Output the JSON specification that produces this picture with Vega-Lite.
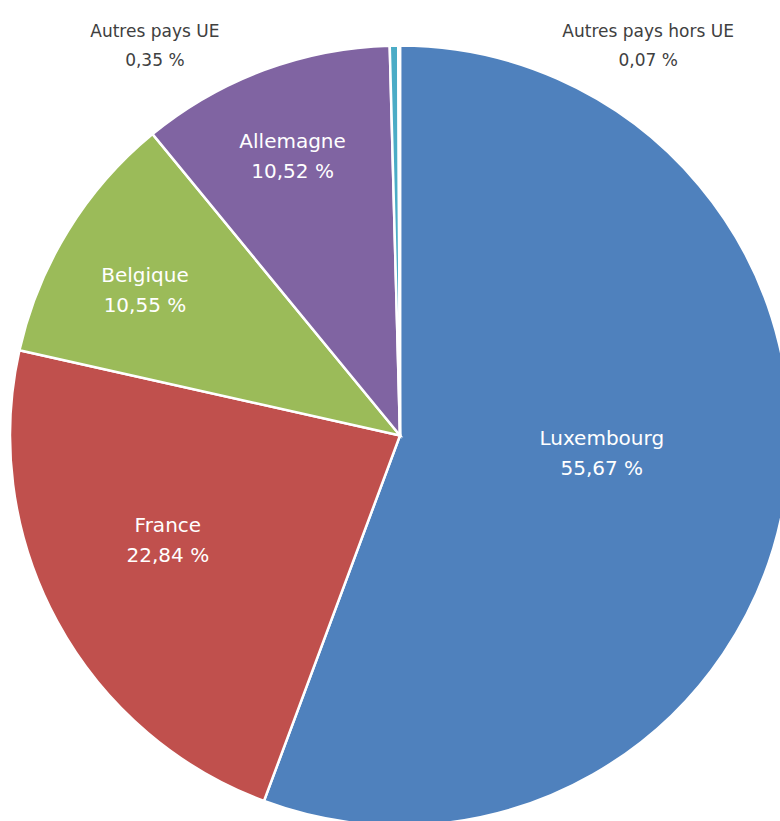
{
  "$schema": "https://vega.github.io/schema/vega-lite/v6.json",
  "width": 780,
  "height": 821,
  "autosize": {"type": "fit", "contains": "padding"},
  "padding": {"left": 20, "top": 47, "right": 0, "bottom": 0},
  "background": "white",
  "config": {"view": {"stroke": null}},
  "data": {
    "values": [
      {"cat": "Luxembourg", "share": 55.67},
      {"cat": "France", "share": 22.84},
      {"cat": "Belgique", "share": 10.55},
      {"cat": "Allemagne", "share": 10.52},
      {"cat": "Autres pays UE", "share": 0.35},
      {"cat": "Autres pays hors UE", "share": 0.07}
    ]
  },
  "transform": [
    {"window": [{"op": "row_number", "as": "rank"}]},
    {"stack": "share", "groupby": [], "sort": [{"field": "rank", "order": "ascending"}], "as": ["s0", "s1"]},
    {"calculate": "(datum.s0 + datum.s1) / 2", "as": "mid"},
    {"calculate": "[datum.cat, replace(format(datum.share, '.2f'), '.', ',') + ' %']", "as": "lbl"}
  ],
  "layer": [
    {
      "mark": {"type": "arc", "outerRadius": 390, "stroke": "white", "strokeWidth": 2.5},
      "encoding": {
        "theta": {"field": "s0", "type": "quantitative", "scale": {"domain": [0, 100]}},
        "theta2": {"field": "s1"},
        "color": {
          "field": "cat",
          "type": "nominal",
          "legend": null,
          "scale": {
            "domain": ["Luxembourg", "France", "Belgique", "Allemagne", "Autres pays UE", "Autres pays hors UE"],
            "range": ["#4F81BD", "#C0504D", "#9BBB59", "#8064A2", "#4BACC6", "#F79646"]
          }
        }
      }
    },
    {
      "transform": [{"filter": "datum.cat === 'Luxembourg'"}],
      "mark": {"type": "text", "radius": 205, "dy": -33, "fill": "white", "font": "DejaVu Sans", "fontSize": 20, "lineHeight": 30, "align": "center", "baseline": "middle"},
      "encoding": {
        "theta": {"field": "mid", "type": "quantitative", "scale": {"domain": [0, 100]}},
        "text": {"field": "lbl"}
      }
    },
    {
      "transform": [{"filter": "datum.cat === 'France'"}],
      "mark": {"type": "text", "radius": 255, "dx": -8, "dy": -31, "fill": "white", "font": "DejaVu Sans", "fontSize": 20, "lineHeight": 30, "align": "center", "baseline": "middle"},
      "encoding": {
        "theta": {"field": "mid", "type": "quantitative", "scale": {"domain": [0, 100]}},
        "text": {"field": "lbl"}
      }
    },
    {
      "transform": [{"filter": "datum.cat === 'Belgique'"}],
      "mark": {"type": "text", "radius": 296, "dx": -3, "dy": -4, "fill": "white", "font": "DejaVu Sans", "fontSize": 20, "lineHeight": 30, "align": "center", "baseline": "middle"},
      "encoding": {
        "theta": {"field": "mid", "type": "quantitative", "scale": {"domain": [0, 100]}},
        "text": {"field": "lbl"}
      }
    },
    {
      "transform": [{"filter": "datum.cat === 'Allemagne'"}],
      "mark": {"type": "text", "radius": 296, "dx": -4, "dy": -16, "fill": "white", "font": "DejaVu Sans", "fontSize": 20, "lineHeight": 30, "align": "center", "baseline": "middle"},
      "encoding": {
        "theta": {"field": "mid", "type": "quantitative", "scale": {"domain": [0, 100]}},
        "text": {"field": "lbl"}
      }
    },
    {
      "transform": [{"filter": "datum.cat === 'Autres pays UE'"}],
      "mark": {"type": "text", "radius": 400, "dx": -239, "dy": -4, "fill": "#404040", "font": "DejaVu Sans", "fontSize": 17, "lineHeight": 29, "align": "center", "baseline": "middle"},
      "encoding": {
        "theta": {"field": "mid", "type": "quantitative", "scale": {"domain": [0, 100]}},
        "text": {"field": "lbl"}
      }
    },
    {
      "transform": [{"filter": "datum.cat === 'Autres pays hors UE'"}],
      "mark": {"type": "text", "radius": 400, "dx": 249, "dy": -4, "fill": "#404040", "font": "DejaVu Sans", "fontSize": 17, "lineHeight": 29, "align": "center", "baseline": "middle"},
      "encoding": {
        "theta": {"field": "mid", "type": "quantitative", "scale": {"domain": [0, 100]}},
        "text": {"field": "lbl"}
      }
    }
  ]
}
